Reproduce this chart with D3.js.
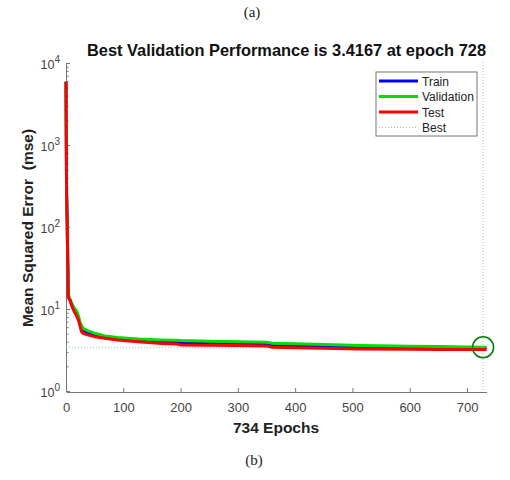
<!DOCTYPE html>
<html lang="en">
  <head>
    <meta charset="UTF-8" />
    <title>Best Validation Performance</title>
    <script src="https://d3js.org/d3.v7.min.js"></script>
    <style>
      body {
        margin: 0;
        background: #fff;
        font-family: "Liberation Sans", Arial, sans-serif;
      }
    </style>
  </head>

  <body>
    <div id="chart"></div>
    <script>
      // values (mse on a log scale)
      const epochs = [0, 1, 2, 3, 4, 5, 7, 10, 13, 16, 19, 22, 24, 27, 30, 35, 39, 50, 68, 90, 126, 167, 193, 200, 250, 300, 350, 360, 400, 450, 513, 600, 650, 700, 728, 734]
      const train = [5900, 260, 120, 40, 15, 13.8, 12.9, 11.2, 10.2, 9.4, 8.7, 7.6, 6.7, 5.9, 5.5, 5.25, 5.1, 4.8, 4.55, 4.35, 4.15, 4.0, 3.97, 3.9, 3.85, 3.78, 3.72, 3.6, 3.55, 3.5, 3.45, 3.4, 3.37, 3.34, 3.33, 3.33]
      const validation = [5900, 260, 120, 40, 15.5, 14.3, 12.9, 11.8, 10.7, 10.0, 9.3, 8.1, 7.0, 6.3, 5.8, 5.55, 5.4, 5.05, 4.7, 4.5, 4.3, 4.2, 4.17, 4.12, 4.05, 3.98, 3.92, 3.82, 3.76, 3.68, 3.6, 3.52, 3.48, 3.44, 3.4167, 3.41]
      const test = [5900, 260, 120, 40, 14, 13.3, 12.9, 11.0, 9.7, 8.9, 8.1, 7.2, 6.4, 5.3, 5.05, 4.9, 4.8, 4.6, 4.4, 4.2, 4.0, 3.8, 3.75, 3.65, 3.62, 3.58, 3.55, 3.42, 3.38, 3.32, 3.25, 3.22, 3.21, 3.2, 3.2, 3.2]
      const bestEpoch = 728
      const bestPerf = 3.4167
      const totalEpochs = 734

      const seriesNames = ["Train", "Validation", "Test"]
      const seriesColors = ["#0000ff", "#00dd00", "#ff0000"]
      const xTicks = [0, 100, 200, 300, 400, 500, 600, 700]
      const yTicks = [1, 10, 100, 1000, 10000]
      const yExps = ["0", "1", "2", "3", "4"]

      const W = 510, H = 480
      const svg = d3.select("#chart").append("svg").attr("width", W).attr("height", H)

      const x = d3.scaleLinear().domain([0, totalEpochs]).range([66, 486.5])
      const y = d3.scaleLog().domain([1, 10000]).range([391, 63])

      svg.append("text")
        .attr("x", 252).attr("y", 17)
        .attr("text-anchor", "middle")
        .attr("font-family", "Liberation Serif, serif")
        .attr("font-size", 15).attr("fill", "#222")
        .text("(a)")

      svg.append("text")
        .attr("x", 254).attr("y", 465)
        .attr("text-anchor", "middle")
        .attr("font-family", "Liberation Serif, serif")
        .attr("font-size", 15).attr("fill", "#222")
        .text("(b)")

      svg.append("text")
        .attr("x", 286.5).attr("y", 56)
        .attr("text-anchor", "middle")
        .attr("font-weight", "bold").attr("font-size", 16.4).attr("fill", "#111")
        .text(`Best Validation Performance is ${bestPerf} at epoch ${bestEpoch}`)

      // minor log ticks
      const minor = []
      for (let k = 0; k < 4; k++) for (let m = 2; m < 10; m++) minor.push(m * Math.pow(10, k))

      const axisColor = "#777"
      const tickText = "#444"

      const yMinor = svg.append("g").attr("transform", `translate(${x(0)},0)`)
        .call(d3.axisLeft(y).tickValues(minor).tickSize(-2.5).tickFormat(""))
      yMinor.select(".domain").remove()
      yMinor.selectAll("line").attr("stroke", axisColor)

      const yAxis = svg.append("g").attr("transform", `translate(${x(0)},0)`)
        .call(d3.axisLeft(y).tickValues(yTicks).tickSizeInner(-4).tickSizeOuter(0).tickPadding(6).tickFormat(""))
      yAxis.select(".domain").attr("stroke", axisColor)
      yAxis.selectAll("line").attr("stroke", axisColor)
      yAxis.selectAll(".tick text")
        .attr("font-size", 12.5).attr("fill", tickText)
        .attr("font-family", "Liberation Sans, Arial, sans-serif")
        .each(function (d, i) {
          const t = d3.select(this)
          t.append("tspan").attr("dy", "0.4em").text("10")
          t.append("tspan").attr("dy", "-0.6em").attr("font-size", 10).text(yExps[i])
        })
        .attr("dy", null)

      const xAxis = svg.append("g").attr("transform", `translate(0,${y(1) + 1})`)
        .call(d3.axisBottom(x).tickValues(xTicks).tickSizeInner(-4).tickSizeOuter(0).tickPadding(10.5))
      xAxis.select(".domain").attr("stroke", axisColor)
      xAxis.selectAll("line").attr("stroke", axisColor)
      xAxis.selectAll("text")
        .attr("font-size", 13).attr("fill", tickText)
        .attr("font-family", "Liberation Sans, Arial, sans-serif")

      svg.append("text")
        .attr("x", 276).attr("y", 433)
        .attr("text-anchor", "middle")
        .attr("font-weight", "bold").attr("font-size", 15.5).attr("fill", "#222")
        .text(`${totalEpochs} Epochs`)

      svg.append("text")
        .attr("transform", "translate(33,228) rotate(-90)")
        .attr("text-anchor", "middle")
        .style("white-space", "pre")
        .attr("font-weight", "bold").attr("font-size", 15.5).attr("fill", "#222")
        .text("Mean Squared Error  (mse)")

      // best lines
      const bestColor = "#8fcf8f"
      svg.append("line")
        .attr("x1", x(0)).attr("x2", x(totalEpochs))
        .attr("y1", y(bestPerf)).attr("y2", y(bestPerf))
        .attr("stroke", bestColor).attr("stroke-width", 1).attr("stroke-dasharray", "1,2")
      svg.append("line")
        .attr("x1", x(bestEpoch)).attr("x2", x(bestEpoch))
        .attr("y1", y(10000) - 1).attr("y2", y(1))
        .attr("stroke", bestColor).attr("stroke-width", 1).attr("stroke-dasharray", "1,2")

      const line = d3.line().x(d => x(d[0])).y(d => y(d[1]))
      const allSeries = [train, validation, test]
      allSeries.forEach((vals, i) => {
        svg.append("path")
          .datum(epochs.map((e, j) => [e, vals[j]]))
          .attr("fill", "none")
          .attr("stroke", seriesColors[i])
          .attr("stroke-width", 3)
          .attr("stroke-linejoin", "round")
          .attr("d", line)
      })

      svg.append("circle")
        .attr("cx", x(bestEpoch)).attr("cy", y(bestPerf)).attr("r", 10.5)
        .attr("fill", "none").attr("stroke", "#0a7d0a").attr("stroke-width", 1.6)

      // legend
      const lg = svg.append("g").attr("transform", "translate(376,72)")
      lg.append("rect").attr("width", 101).attr("height", 64)
        .attr("fill", "#fff").attr("stroke", "#777").attr("stroke-width", 1)
      const legendNames = seriesNames.concat(["Best"])
      legendNames.forEach((name, i) => {
        const ly = 9 + i * 15.5
        const ln = lg.append("line").attr("x1", 3).attr("x2", 42).attr("y1", ly).attr("y2", ly)
        if (i < 3) ln.attr("stroke", seriesColors[i]).attr("stroke-width", 3)
        else ln.attr("stroke", bestColor).attr("stroke-width", 1).attr("stroke-dasharray", "1,2")
        lg.append("text").attr("x", 46).attr("y", ly + 4.5)
          .attr("font-size", 12).attr("fill", "#222")
          .text(name)
      })
    </script>
  </body>
</html>
